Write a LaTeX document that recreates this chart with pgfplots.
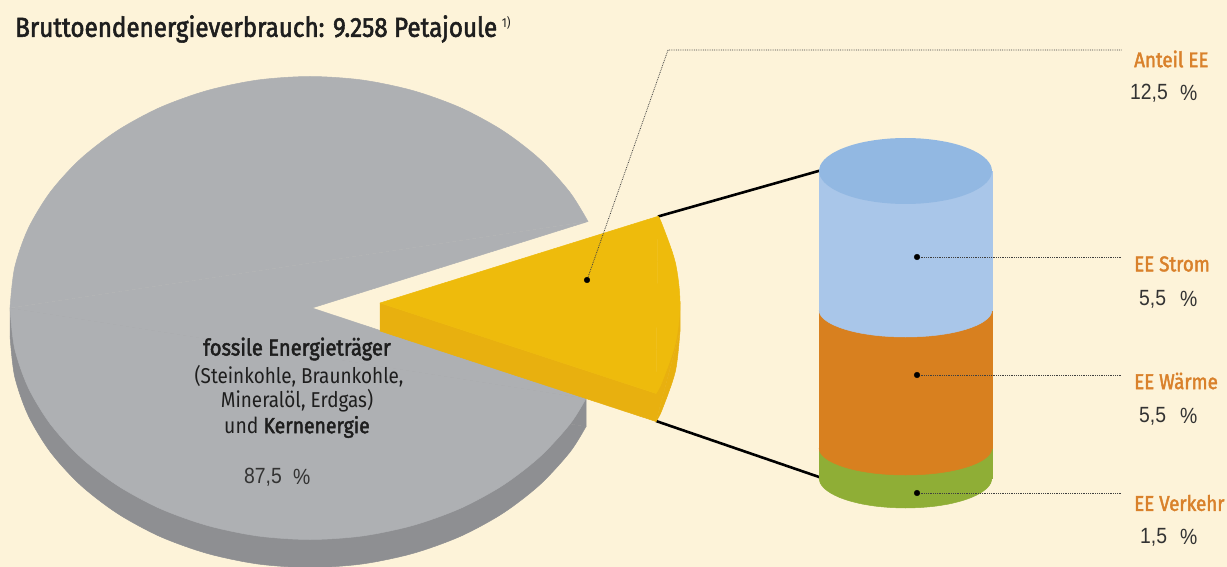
\documentclass[border=0pt]{standalone}
\usepackage{pgfplots}
\pgfplotsset{compat=1.18}
\usepackage{fontspec}
\setmainfont{Fira Sans}[FakeStretch=0.88]
\newfontfamily\med{Fira Sans}[FakeStretch=0.88,FakeBold=2]
\newfontfamily\numf{Liberation Sans}[FakeStretch=0.88]
\definecolor{bg}{HTML}{FDF3D9}
\definecolor{greytop}{HTML}{AEB0B3}
\definecolor{greyside}{HTML}{8E8F92}
\definecolor{yeltop}{HTML}{EEBB0C}
\definecolor{yelside}{HTML}{E8B00F}
\definecolor{bluetop}{HTML}{92B8E2}
\definecolor{bluebody}{HTML}{A9C6E9}
\definecolor{orangebody}{HTML}{D8801F}
\definecolor{greenbody}{HTML}{8FAE36}
\definecolor{lab}{HTML}{D9812B}
\definecolor{ink}{HTML}{1E1E1E}
\definecolor{num}{HTML}{333333}
\newcommand{\fs}[1]{\fontsize{#1}{#1}\selectfont}
\pgfplotsset{
  shape/.style={fill=#1,draw=#1,line width=0.5pt},
  arc/.style={smooth,fill=#1,draw=#1,line width=0.5pt},
}
\begin{document}
\begin{tikzpicture}
\begin{axis}[
  scale only axis, width=1227pt, height=567pt,
  xmin=0, xmax=1227, ymin=0, ymax=567, y dir=reverse,
  hide axis, clip=true, no marks,
]
% background
\addplot[fill=bg,draw=none] coordinates {(0,0)(1227,0)(1227,567)(0,567)};
% grey slice: side
\addplot[shape=greyside] coordinates {(586,398.5)(586,426.5)(10,336)(10,308)(586,398.5)};
\addplot[arc=greyside] coordinates {(586,426.5)(570,452)(539.8,484.8)(502.8,513.3)(460,536.5)(412.6,553.5)(362.1,564)(310,567.5)(257.9,564)(207.4,553.5)(160,536.5)(117.2,513.3)(80.2,484.8)(50.2,451.8)(28.1,415.2)(14.6,376.2)(10,336)};
% grey slice: top
\addplot[arc=greytop] coordinates {(586,398.5)(570,424)(539.8,456.8)(502.8,485.3)(460,508.5)(412.6,525.5)(362.1,536)(310,539.5)(257.9,536)(207.4,525.5)(160,508.5)(117.2,485.3)(80.2,456.8)(50.2,423.8)(28.1,387.2)(14.6,348.2)(10,308)};
\addplot[arc=greytop] coordinates {(10,308)(14.6,267.8)(28.1,228.8)(50.2,192.2)(80.2,159.2)(117.2,130.7)(160,107.5)(207.4,90.5)(257.9,80)(310,76.5)(362.1,80)(412.6,90.5)(460,107.5)(502.8,130.7)(539.8,159.2)(569.8,192.2)(588,221.5)};
\addplot[shape=greytop] coordinates {(10,308)(586,398.5)(312,308)(588,221.5)(10,308)};
% connector lines
\addplot[black,line width=2.6pt] coordinates {(658,216.5)(822,170)};
\addplot[black,line width=2.6pt] coordinates {(656,421)(822,478)};
% yellow slice
\addplot[shape=yelside] coordinates {(380,303)(380,331)(656,421.5)(680,331)(680,303)(656,393.5)(380,303)};
\addplot[arc=yelside] coordinates {(656,421.5)(661.9,410.2)(675.4,371.2)(680,331)};
\addplot[arc=yeltop] coordinates {(658,216.3)(661.9,223.8)(675.4,262.8)(680,303)(675.4,343.2)(661.9,382.2)(656,393.5)};
\addplot[shape=yeltop] coordinates {(380,303)(658,216.3)(656,393.5)(380,303)};
% cylinder: green
\addplot[arc=greenbody] coordinates {(819,478)(820.3,483.2)(824.2,488.3)(830.6,493)(839.2,497.3)(849.9,501)(862.2,504)(875.9,506.2)(890.5,507.5)(905.5,508)(920.5,507.5)(935.1,506.2)(948.8,504)(961.1,501)(971.8,497.3)(980.4,493)(986.8,488.3)(990.7,483.2)(992,478)};
\addplot[shape=greenbody] coordinates {(819.2,440)(991.8,440)(991.8,478)(819.2,478)(819.2,440)};
% cylinder: orange
\addplot[arc=orangebody] coordinates {(819,448)(820.3,452.7)(824.2,457.2)(830.6,461.5)(839.2,465.3)(849.9,468.7)(862.2,471.4)(875.9,473.4)(890.5,474.6)(905.5,475)(920.5,474.6)(935.1,473.4)(948.8,471.4)(961.1,468.7)(971.8,465.3)(980.4,461.5)(986.8,457.2)(990.7,452.7)(992,448)};
\addplot[shape=orangebody] coordinates {(819.2,300)(991.8,300)(991.8,448)(819.2,448)(819.2,300)};
% cylinder: blue
\addplot[arc=bluebody] coordinates {(819,310)(820.3,314.7)(824.2,319.2)(830.6,323.5)(839.2,327.3)(849.9,330.7)(862.2,333.4)(875.9,335.4)(890.5,336.6)(905.5,337)(920.5,336.6)(935.1,335.4)(948.8,333.4)(961.1,330.7)(971.8,327.3)(980.4,323.5)(986.8,319.2)(990.7,314.7)(992,310)};
\addplot[shape=bluebody] coordinates {(819.2,171)(991.8,171)(991.8,310)(819.2,310)(819.2,171)};
% cylinder: top
\addplot[smooth cycle,fill=bluetop,draw=none] coordinates {(819,171)(820.3,176.7)(824.2,182.3)(830.6,187.5)(839.2,192.2)(849.9,196.3)(862.2,199.6)(875.9,202)(890.5,203.5)(905.5,204)(920.5,203.5)(935.1,202)(948.8,199.6)(961.1,196.3)(971.8,192.2)(980.4,187.5)(986.8,182.3)(990.7,176.7)(992,171)(990.7,165.3)(986.8,159.7)(980.4,154.5)(971.8,149.8)(961.1,145.7)(948.8,142.4)(935.1,140)(920.5,138.5)(905.5,138)(890.5,138.5)(875.9,140)(862.2,142.4)(849.9,145.7)(839.2,149.8)(830.6,154.5)(824.2,159.7)(820.3,165.3)};
% leader lines
\addplot[densely dotted,color=black!75,line width=0.8pt] coordinates {(587,280)(668,50)(1122,50)};
\addplot[densely dotted,color=black!75,line width=0.8pt] coordinates {(917,257)(1122,257)};
\addplot[densely dotted,color=black!75,line width=0.8pt] coordinates {(917,375)(1122,375)};
\addplot[densely dotted,color=black!75,line width=0.8pt] coordinates {(917,493)(1122,493)};
% dots
\addplot[only marks,mark=*,mark size=2.8pt,mark options={fill=black,draw=black}] coordinates {(587,280)(917,257)(917,375)(917,493)};
% texts
\node[anchor=west,text=ink,inner sep=0pt] at (axis cs:15,29) {\fs{27.5}\med Bruttoendenergieverbrauch: 9.258 Petajoule\,\raisebox{9pt}{\fs{13}\rmfamily 1)}};
\node[text=ink,inner sep=0pt] at (axis cs:297,349) {\fs{23}\med fossile Energieträger};
\node[text=ink,inner sep=0pt] at (axis cs:299,376) {\fs{21.5}(Steinkohle, Braunkohle,};
\node[text=ink,inner sep=0pt] at (axis cs:297,401) {\fs{21.5}Mineralöl, Erdgas)};
\node[text=ink,inner sep=0pt] at (axis cs:297,427) {\fs{22}und {\med Kernenergie}};
\node[anchor=west,text=num,inner sep=0pt] at (axis cs:244,477) {\fs{22}\numf 87,5};
\node[anchor=west,text=num,inner sep=0pt] at (axis cs:293,477) {\fs{22}\numf \%};
\node[anchor=west,text=lab,inner sep=0pt] at (axis cs:1134,59) {\fs{21.3}\med Anteil EE};
\node[anchor=west,text=num,inner sep=0pt] at (axis cs:1130,93) {\fs{22}\numf 12,5};
\node[anchor=west,text=num,inner sep=0pt] at (axis cs:1180,93) {\fs{22}\numf \%};
\node[anchor=west,text=lab,inner sep=0pt] at (axis cs:1134,264) {\fs{21.3}\med EE Strom};
\node[anchor=west,text=num,inner sep=0pt] at (axis cs:1139,299) {\fs{22}\numf 5,5};
\node[anchor=west,text=num,inner sep=0pt] at (axis cs:1180,299) {\fs{22}\numf \%};
\node[anchor=west,text=lab,inner sep=0pt] at (axis cs:1134,381) {\fs{21.3}\med EE Wärme};
\node[anchor=west,text=num,inner sep=0pt] at (axis cs:1139,416) {\fs{22}\numf 5,5};
\node[anchor=west,text=num,inner sep=0pt] at (axis cs:1180,416) {\fs{22}\numf \%};
\node[anchor=west,text=lab,inner sep=0pt] at (axis cs:1134,503) {\fs{21.3}\med EE Verkehr};
\node[anchor=west,text=num,inner sep=0pt] at (axis cs:1140,537) {\fs{22}\numf 1,5};
\node[anchor=west,text=num,inner sep=0pt] at (axis cs:1180,537) {\fs{22}\numf \%};
\end{axis}
\end{tikzpicture}
\end{document}
